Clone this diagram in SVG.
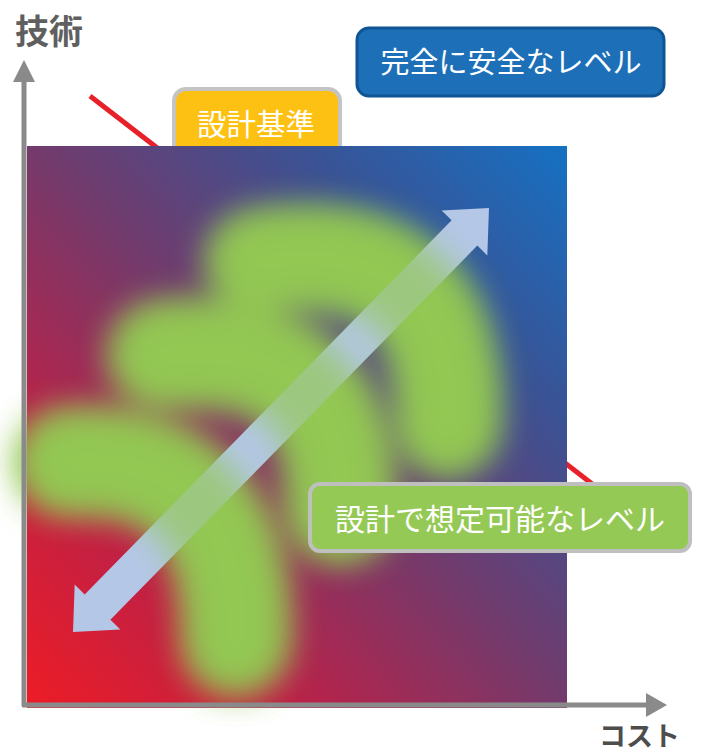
<svg xmlns="http://www.w3.org/2000/svg" xmlns:xlink="http://www.w3.org/1999/xlink" width="701" height="753" viewBox="0 0 701 753">
  <style>
    .lbl { font-family: "Noto Sans CJK JP", "Noto Sans", sans-serif; fill: #ffffff; text-anchor: middle; }
    .axlbl { font-family: "Noto Sans CJK JP", "Noto Sans", sans-serif; font-weight: bold; }
    .axis { stroke: #8a8a8a; stroke-width: 5; fill: none; }
    .axhead { fill: #8a8a8a; }
    .blob { fill: none; stroke: #93c853; stroke-linecap: round; }
  </style>
  <defs>
    <linearGradient id="bg" x1="0" y1="1" x2="1" y2="0">
      <stop offset="0" stop-color="#ee1c25"/>
      <stop offset="0.25" stop-color="#bc2148"/>
      <stop offset="0.5" stop-color="#743a6b"/>
      <stop offset="0.75" stop-color="#3b5294"/>
      <stop offset="1" stop-color="#1571c3"/>
    </linearGradient>
    <filter id="blur" x="-30%" y="-30%" width="160%" height="160%">
      <feGaussianBlur stdDeviation="17"/>
    </filter>
  </defs>

  <!-- red design line (behind square) -->
  <g id="connectors">
    <line x1="90" y1="96" x2="600" y2="490" stroke="#e8202a" stroke-width="5"/>
  </g>

  <!-- design basis label (partly under square) -->
  <g id="node-design-basis">
    <rect x="174" y="89" width="166" height="80" rx="12" fill="#fdc113" stroke="#c4c4c4" stroke-width="4"/>
    <text class="lbl" x="256" y="135" font-size="29.5">設計基準</text>
  </g>

  <!-- gradient field -->
  <g id="field">
    <rect x="27" y="146" width="540" height="562" fill="url(#bg)"/>
  </g>

  <!-- blurred green arcs -->
  <g id="blobs" filter="url(#blur)">
    <path class="blob" stroke-width="95" d="M 258 262 Q 455 232 448 425"/>
    <path class="blob" stroke-width="98" d="M 162 355 Q 348 335 340 510"/>
    <path class="blob" stroke-width="98" d="M 68 462 Q 240 452 236 642"/>
  </g>

  <!-- double-headed arrow -->
  <g id="arrow">
    <polygon fill="#b4c7e7" transform="translate(281,420) rotate(-45.55)"
      points="297,0 262,-32 262,-18 -262,-18 -262,-32 -297,0 -262,32 -262,18 262,18 262,32"/>
  </g>
  <use xlink:href="#blobs" href="#blobs" opacity="0.7"/>

  <!-- axes -->
  <g id="axes">
    <line class="axis" x1="24" y1="78" x2="24" y2="706"/>
    <polygon class="axhead" points="24,60 13,82 35,82"/>
    <line class="axis" x1="22" y1="705" x2="650" y2="705"/>
    <polygon class="axhead" points="667,705 646,693 646,717"/>
  </g>

  <g id="node-fully-safe">
    <rect x="357" y="28" width="307" height="68" rx="12" fill="#1d70b8" stroke="#0f5593" stroke-width="3"/>
    <text class="lbl" x="511" y="73" font-size="29">完全に安全なレベル</text>
  </g>

  <g id="node-design-assumable">
    <rect x="310" y="484" width="380" height="67" rx="10" fill="#95c956" stroke="#bfbfbf" stroke-width="4"/>
    <text class="lbl" x="500" y="530" font-size="30">設計で想定可能なレベル</text>
  </g>

  <g id="axis-labels">
    <text class="axlbl" x="15" y="44" font-size="34" fill="#5f5f5f">技術</text>
    <text class="axlbl" x="599" y="746" font-size="27" fill="#4d4d4d">コスト</text>
  </g>
</svg>
